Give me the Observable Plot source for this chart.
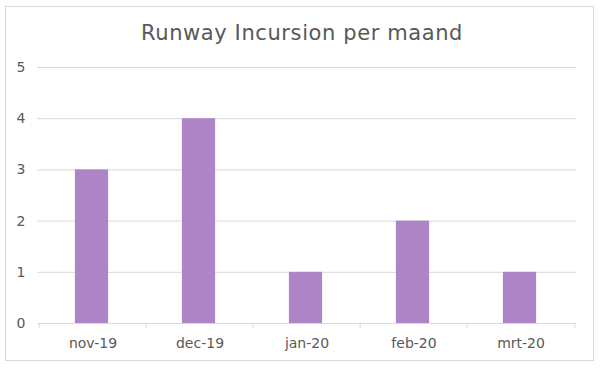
<!DOCTYPE html>
<html>
<head>
<meta charset="utf-8">
<script src="https://cdn.jsdelivr.net/npm/d3@7"></script>
<script src="https://cdn.jsdelivr.net/npm/@observablehq/plot@0.6"></script>
<style>
  body { margin: 0; background: #fff; }
  #wrap { position: relative; width: 604px; height: 372px; font-family: "DejaVu Sans", sans-serif; }
  #frame { position: absolute; left: 5px; top: 6px; width: 589px; height: 355px; border: 1px solid #d9d9d9; box-sizing: border-box; }
  #title { position: absolute; left: 0; width: 604px; top: 21px; text-align: center; font-size: 21px; color: #595959; letter-spacing: 0.6px; }
  #chart { position: absolute; left: 0; top: 0; }
</style>
</head>
<body>
<div id="wrap">
  <div id="frame"></div>
  <div id="title">Runway Incursion per maand</div>
  <div id="chart"></div>
</div>
<script>
const months = ["nov-19", "dec-19", "jan-20", "feb-20", "mrt-20"];
const counts = [3, 4, 1, 2, 1];
const yTicks = [0, 1, 2, 3, 4, 5];

const data = months.map((m, i) => ({month: m, count: counts[i]}));
const W = 604, H = 372, mL = 37, mR = 28, mT = 67, mB = 49;
const band = (W - mL - mR) / months.length;
const barW = 34;

const plot = Plot.plot({
  width: W,
  height: H,
  marginLeft: mL,
  marginRight: mR,
  marginTop: mT,
  marginBottom: mB,
  style: {fontFamily: "DejaVu Sans, sans-serif", fontSize: "14px", color: "#595959", background: "transparent"},
  x: {domain: months, padding: 0, label: null},
  y: {domain: [0, 5], label: null},
  marks: [
    Plot.ruleY(yTicks.slice(1), {stroke: "#d9d9d9", strokeWidth: 1}),
    Plot.barY(data, {x: "month", y: "count", fill: "#ad84c6", insetLeft: (band - barW) / 2 - 1, insetRight: (band - barW) / 2 + 1}),
    Plot.ruleY([0], {stroke: "#d9d9d9", strokeWidth: 1}),
    Plot.ruleX(months, {x: d => d, y1: 0, y2: 0, insetBottom: -5, dx: -band / 2, stroke: "#d9d9d9"}),
    Plot.ruleX(months.slice(-1), {x: d => d, y1: 0, y2: 0, insetBottom: -5, dx: band / 2, stroke: "#d9d9d9"}),
    Plot.axisY({ticks: yTicks, tickSize: 0, tickPadding: 12, tickFormat: d3.format("d"), label: null, fill: "#595959"}),
    Plot.axisX({tickSize: 0, tickPadding: 15, label: null, fill: "#595959"})
  ]
});
document.getElementById("chart").appendChild(plot);
</script>
</body>
</html>
